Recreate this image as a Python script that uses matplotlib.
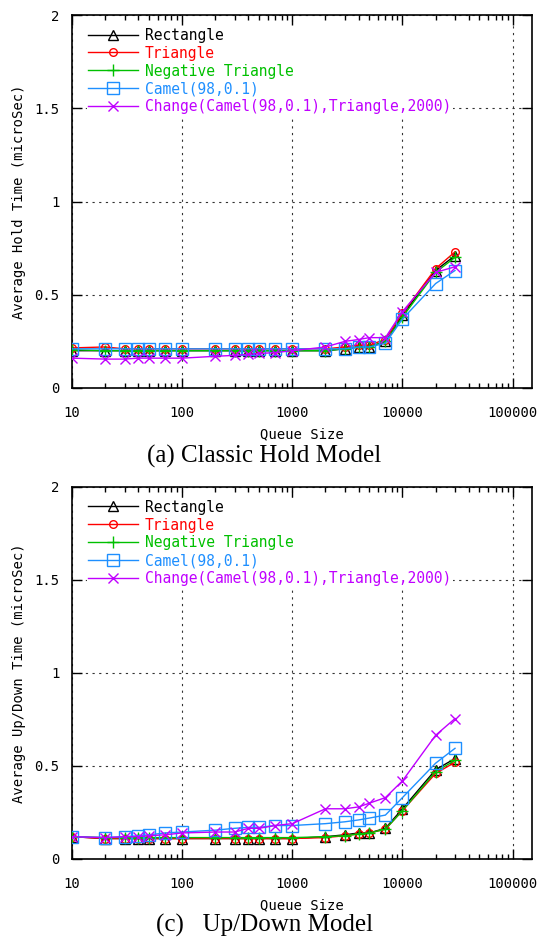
import numpy as np
import matplotlib
matplotlib.use("Agg")
import matplotlib.pyplot as plt
from matplotlib.ticker import FixedLocator, FixedFormatter, LogLocator, NullFormatter

# queue sizes used in both experiments
queue_size = [10, 20, 30, 40, 50, 70, 100, 200, 300, 400, 500, 700,
              1000, 2000, 3000, 4000, 5000, 7000, 10000, 20000, 30000]

series_names = ["Rectangle", "Triangle", "Negative Triangle", "Camel(98,0.1)",
                "Change(Camel(98,0.1),Triangle,2000)"]

# (a) classic hold model, microseconds
hold_rect = [0.20, 0.20, 0.20, 0.20, 0.20, 0.20, 0.20, 0.20, 0.20, 0.20, 0.20, 0.20,
             0.20, 0.20, 0.21, 0.22, 0.22, 0.25, 0.39, 0.63, 0.71]
hold_tri = [0.215, 0.22, 0.21, 0.21, 0.21, 0.21, 0.21, 0.21, 0.21, 0.21, 0.21, 0.21,
            0.21, 0.21, 0.22, 0.23, 0.23, 0.26, 0.40, 0.64, 0.73]
hold_neg = [0.205, 0.20, 0.20, 0.20, 0.20, 0.20, 0.20, 0.20, 0.20, 0.20, 0.20, 0.20,
            0.20, 0.20, 0.21, 0.22, 0.22, 0.25, 0.38, 0.62, 0.70]
hold_camel = [0.21, 0.21, 0.21, 0.21, 0.21, 0.21, 0.21, 0.21, 0.21, 0.21, 0.21, 0.21,
              0.21, 0.21, 0.21, 0.22, 0.22, 0.24, 0.37, 0.56, 0.63]
hold_change = [0.16, 0.155, 0.155, 0.16, 0.16, 0.16, 0.16, 0.17, 0.175, 0.18, 0.185, 0.19,
               0.20, 0.22, 0.25, 0.26, 0.27, 0.27, 0.41, 0.62, 0.65]

# (c) up/down model, microseconds
ud_rect = [0.12, 0.11, 0.11, 0.11, 0.11, 0.11, 0.11, 0.11, 0.11, 0.11, 0.11, 0.11,
           0.11, 0.12, 0.13, 0.14, 0.14, 0.165, 0.27, 0.48, 0.54]
ud_tri = [0.12, 0.11, 0.11, 0.11, 0.11, 0.11, 0.11, 0.11, 0.11, 0.11, 0.11, 0.11,
          0.11, 0.115, 0.125, 0.135, 0.14, 0.16, 0.26, 0.46, 0.52]
ud_neg = [0.12, 0.115, 0.115, 0.115, 0.115, 0.115, 0.115, 0.115, 0.115, 0.115, 0.115, 0.115,
          0.115, 0.12, 0.125, 0.135, 0.14, 0.16, 0.26, 0.47, 0.53]
ud_camel = [0.12, 0.115, 0.12, 0.125, 0.13, 0.14, 0.145, 0.155, 0.165, 0.17, 0.17, 0.18,
            0.18, 0.19, 0.20, 0.21, 0.22, 0.236, 0.33, 0.515, 0.595]
ud_change = [0.12, 0.115, 0.12, 0.12, 0.125, 0.13, 0.14, 0.145, 0.145, 0.165, 0.165, 0.18,
             0.19, 0.27, 0.27, 0.28, 0.30, 0.33, 0.42, 0.665, 0.755]

colors = ["black", "#ff0000", "#00c000", "#1e8fff", "#c000ff"]
markers = [dict(marker="^", ms=7, mfc="none"),
           dict(marker="o", ms=5.5, mfc="none"),
           dict(marker="+", ms=8),
           dict(marker="s", ms=8, mfc="none"),
           dict(marker="x", ms=7)]

y_ticks = [0, 0.5, 1, 1.5, 2]
y_tick_labels = ["0", "0.5", "1", "1.5", "2"]
x_ticks = [10, 100, 1000, 10000, 100000]
x_tick_labels = ["10", "100", "1000", "10000", "100000"]

mono = "DejaVu Sans Mono"
plt.rcParams["font.family"] = mono
plt.rcParams["font.size"] = 10


def draw_panel(ax, data, ylabel):
    for vals, name, c, mk in zip(data, series_names, colors, markers):
        ax.plot(queue_size, vals, color=c, lw=1.0, mew=1.0, mec=c, label=name,
                zorder=3, **mk)
    ax.set_xscale("log")
    ax.set_xlim(10, 150000)
    ax.set_ylim(0, 2)
    ax.xaxis.set_major_locator(FixedLocator(x_ticks))
    ax.xaxis.set_major_formatter(FixedFormatter(x_tick_labels))
    ax.xaxis.set_minor_locator(LogLocator(base=10, subs=np.arange(2, 10)))
    ax.xaxis.set_minor_formatter(NullFormatter())
    ax.yaxis.set_major_locator(FixedLocator(y_ticks))
    ax.yaxis.set_major_formatter(FixedFormatter(y_tick_labels))
    ax.tick_params(which="both", direction="in", top=True, right=True,
                   labelsize=10, width=1.0)
    ax.tick_params(axis="x", pad=13)
    ax.tick_params(axis="y", pad=9)
    ax.tick_params(which="major", length=7)
    ax.tick_params(which="minor", length=3.5)
    ax.grid(True, which="major", color="#333333", lw=0.8, ls=(0, (2, 4)), zorder=1)
    for s in ax.spines.values():
        s.set_linewidth(1.2)
    ax.set_xlabel("Queue Size", fontsize=10, labelpad=5)
    ax.set_ylabel(ylabel, fontsize=10, labelpad=6)
    leg = ax.legend(loc="upper left", bbox_to_anchor=(0.032, 0.97), borderaxespad=0,
                    borderpad=0.1, frameon=True, fancybox=False, edgecolor="none",
                    facecolor="white", framealpha=1, numpoints=1, handlelength=3.4,
                    handletextpad=0.5, labelspacing=0.2, fontsize=10.5)
    for txt, c in zip(leg.get_texts(), colors):
        txt.set_color(c)


fig = plt.figure(figsize=(5.39, 9.39), dpi=100)
ax1 = fig.add_axes([0.1336, 0.5868, 0.8534, 0.3972])
ax2 = fig.add_axes([0.1336, 0.0852, 0.8534, 0.3962])

draw_panel(ax1, [hold_rect, hold_tri, hold_neg, hold_camel, hold_change],
           "Average Hold Time (microSec)")
draw_panel(ax2, [ud_rect, ud_tri, ud_neg, ud_camel, ud_change],
           "Average Up/Down Time (microSec)")

fig.text(0.49, 1 - 456 / 939, "(a) Classic Hold Model", ha="center", va="center",
         family="Liberation Serif", fontsize=18)
fig.text(0.49, 1 - 925 / 939, "(c)   Up/Down Model", ha="center", va="center",
         family="Liberation Serif", fontsize=18)

fig.savefig("out.png", dpi=100)
